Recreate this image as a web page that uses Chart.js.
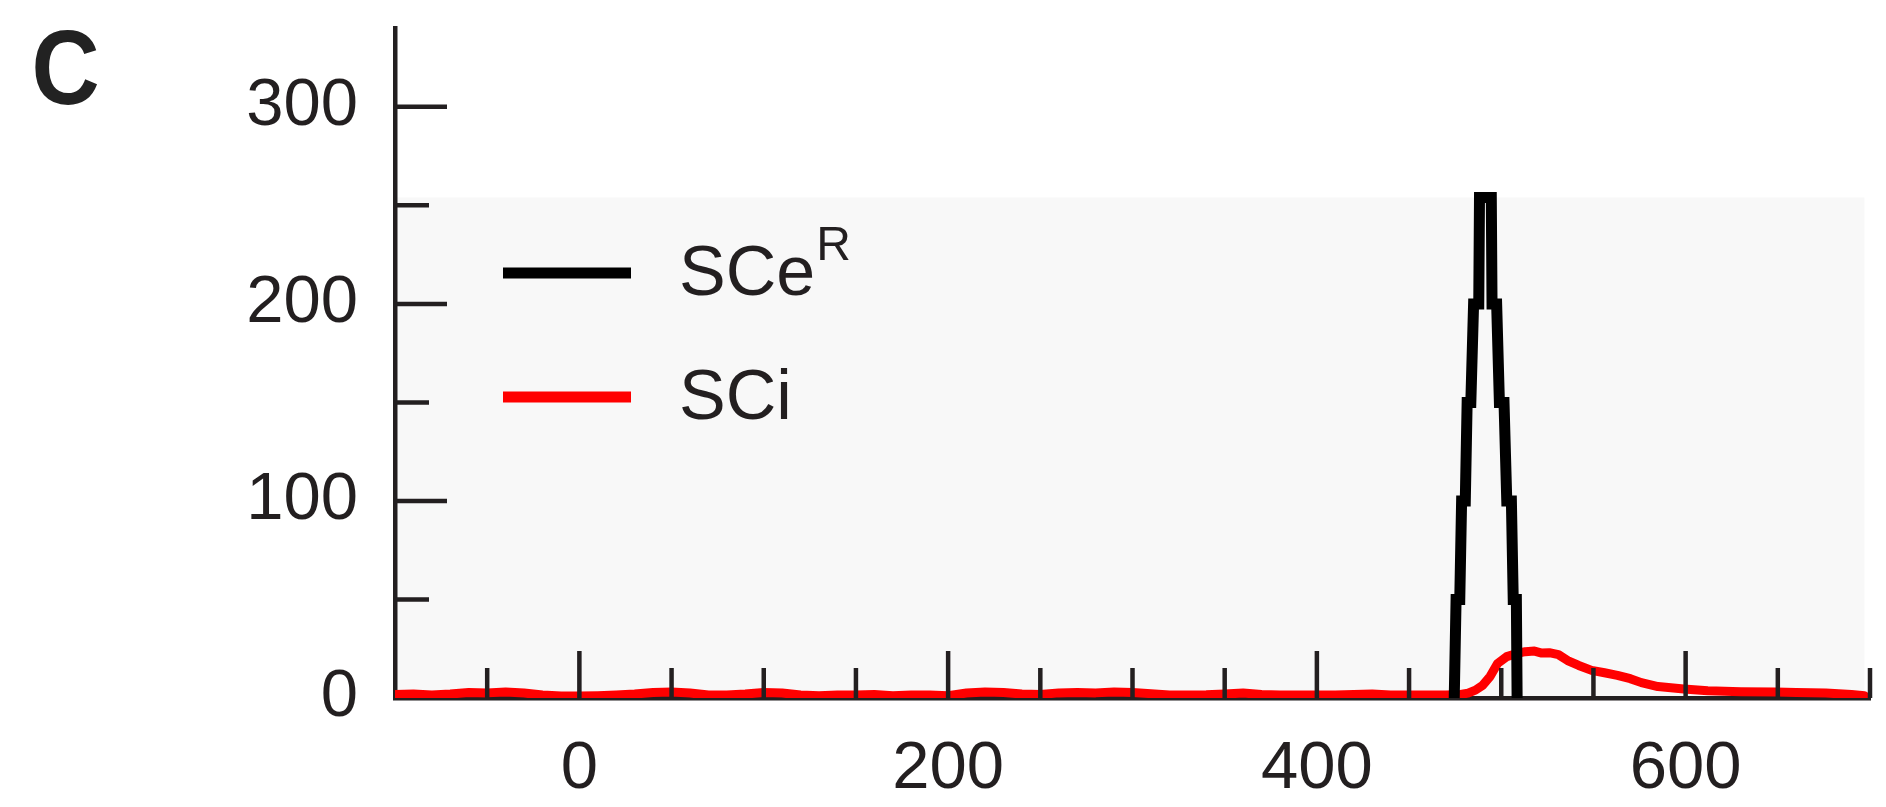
<!DOCTYPE html>
<html>
<head>
<meta charset="utf-8">
<script src="https://cdn.jsdelivr.net/npm/chart.js@4.4.1/dist/chart.umd.min.js"></script>
<style>
html,body{margin:0;padding:0;background:#ffffff;}
#wrap{width:1886px;height:807px;position:relative;}
</style>
</head>
<body>
<div id="wrap"><canvas id="c" width="1886" height="807"></canvas></div>
<script>
// ---- data ----
const panelLabel = 'C';
const seriesNames = ['SCe', 'SCi'];
const seriesSup = ['R', ''];
const seriesColors = ['#000000', '#ff0000'];

const xRange = [-100, 700];
const yRange = [0, 340];
const xLabelTicks = [0, 200, 400, 600];
const yLabelTicks = [0, 100, 200, 300];
const xMinorTicks = [-50, 50, 100, 150, 250, 300, 350, 450, 500, 550, 650, 700];
const yMinorTicks = [50, 150, 250];
const saturationLevel = 254;   // top of the shaded band
const bandXEnd = 697;

// SCe^R (black, stepped peak)
const sceR_x = [474.5, 475.5, 477.5, 478.5, 480.5, 481.5, 483.5, 485, 487.8, 488.2, 494.6, 495, 497.5, 499, 501.5, 503, 505.5, 506.5, 508.2, 508.6];
const sceR_y = [0, 50, 50, 100, 100, 150, 150, 200, 200, 254, 254, 200, 200, 150, 150, 100, 100, 50, 50, 0];

// SCi (red)
const sci_x = [-100, -90, -80, -70, -60, -50, -40, -30, -20, -10, 0, 10, 20, 30, 40, 50, 60, 70, 80, 90,
  100, 110, 120, 130, 140, 150, 160, 170, 180, 190, 200, 210, 220, 230, 240, 250, 260, 270, 280, 290,
  300, 310, 320, 330, 340, 350, 360, 370, 380, 390, 400, 410, 420, 430, 440, 450, 460, 470, 478,
  482, 486, 490, 494, 498, 503, 508, 513, 518, 522, 526, 531, 536, 542, 549, 556, 563,
  570, 576, 585, 599, 612, 630, 649, 660, 676, 690, 697];
const sci_y = [1.8, 2, 1.5, 2, 2.8, 2.6, 3, 2.5, 1.5, 1, 1, 1.2, 1.5, 2, 2.8, 3, 2.5, 1.5, 1.5, 2,
  2.8, 2.5, 1.5, 1.2, 1.5, 1.5, 1.8, 1.2, 1.5, 1.5, 1.2, 2.5, 3, 2.8, 2, 1.8, 2.6, 2.8, 2.6, 3,
  2.8, 2.2, 1.5, 1.5, 1.6, 2, 2.5, 1.8, 1.5, 1.5, 1.5, 1.5, 1.8, 2, 1.5, 1.5, 1.5, 1.5, 1.8,
  2.5, 4, 6.5, 11, 17.5, 21, 22.5, 23.5, 23.8, 22.8, 23, 22, 19, 16.5, 14, 12.8, 11.5,
  9.8, 7.8, 5.8, 4.6, 3.7, 3.2, 3, 2.8, 2.5, 1.8, 1.2];

// ---- styling ----
const FONT = '"Liberation Sans", Arial, Helvetica, sans-serif';
const INK = '#231f20';

const bandPlugin = {
  id: 'band',
  beforeDraw(chart) {
    const {ctx} = chart; const xs = chart.scales.x, ys = chart.scales.y;
    const x0 = xs.getPixelForValue(xRange[0]) + 2;
    const x1 = xs.getPixelForValue(bandXEnd);
    const y0 = ys.getPixelForValue(saturationLevel);
    const y1 = ys.getPixelForValue(0);
    ctx.save();
    ctx.fillStyle = '#f8f8f8';
    ctx.fillRect(x0, y0, x1 - x0, y1 - y0);
    ctx.restore();
  }
};

const tickPlugin = {
  id: 'innerTicks',
  afterDatasetsDraw(chart) {
    const {ctx} = chart; const xs = chart.scales.x, ys = chart.scales.y;
    const ca = chart.chartArea;
    ctx.save();
    ctx.strokeStyle = INK; ctx.lineWidth = 4.5; ctx.lineCap = 'butt';
    const xt = xLabelTicks.map(v => [v, 47]).concat(xMinorTicks.map(v => [v, 30]));
    xt.forEach(([v, len]) => {
      const px = xs.getPixelForValue(v);
      ctx.beginPath(); ctx.moveTo(px, ca.bottom); ctx.lineTo(px, ca.bottom - len); ctx.stroke();
    });
    const yt = yLabelTicks.filter(v => v !== 0).map(v => [v, 52]).concat(yMinorTicks.map(v => [v, 34]));
    yt.forEach(([v, len]) => {
      const py = ys.getPixelForValue(v);
      ctx.beginPath(); ctx.moveTo(ca.left, py); ctx.lineTo(ca.left + len, py); ctx.stroke();
    });
    ctx.restore();
  }
};

const annotPlugin = {
  id: 'annot',
  afterDraw(chart) {
    const {ctx} = chart;
    ctx.save();
    ctx.fillStyle = '#222222';
    ctx.font = 'bold 105px "Liberation Sans Narrow", "Liberation Sans", Arial, sans-serif';
    ctx.textBaseline = 'alphabetic'; ctx.textAlign = 'left';
    const m = ctx.measureText(panelLabel);
    const inkW = m.actualBoundingBoxLeft + m.actualBoundingBoxRight;
    const sx = 62 / inkW;
    ctx.translate(35, 104);
    ctx.scale(sx, 1);
    ctx.fillText(panelLabel, m.actualBoundingBoxLeft, 0);
    ctx.restore();

    ctx.save();
    const rows = [273, 397];
    seriesNames.forEach((name, i) => {
      ctx.fillStyle = seriesColors[i];
      ctx.fillRect(503, rows[i] - 5.5, 128, 11);
      ctx.fillStyle = INK;
      ctx.font = '70px ' + FONT;
      ctx.textBaseline = 'alphabetic'; ctx.textAlign = 'left';
      const base = rows[i] + 22;
      ctx.fillText(name, 679, base);
      if (seriesSup[i]) {
        const w = ctx.measureText(name).width;
        ctx.font = '48px ' + FONT;
        ctx.fillText(seriesSup[i], 679 + w + 1, base - 35);
      }
    });
    ctx.restore();
  }
};

const toPts = (xs, ys) => xs.map((x, i) => ({x: x, y: ys[i]}));

new Chart(document.getElementById('c'), {
  type: 'line',
  data: {
    datasets: [
      {label: seriesNames[0] + seriesSup[0], data: toPts(sceR_x, sceR_y), borderColor: seriesColors[0],
       borderWidth: 11, pointRadius: 0, tension: 0, borderJoinStyle: 'miter', fill: false},
      {label: seriesNames[1], data: toPts(sci_x, sci_y), borderColor: seriesColors[1],
       borderWidth: 9, pointRadius: 0, tension: 0, borderJoinStyle: 'round', borderCapStyle: 'round', fill: false}
    ]
  },
  options: {
    responsive: false,
    animation: false,
    devicePixelRatio: 1,
    layout: {padding: {top: 28, right: 16, left: 0, bottom: 0}},
    plugins: {legend: {display: false}, tooltip: {enabled: false}},
    scales: {
      x: {
        type: 'linear', min: xRange[0], max: xRange[1],
        afterBuildTicks: s => { s.ticks = xLabelTicks.map(v => ({value: v})); },
        afterFit: s => { s.height = 109; s.paddingLeft = 0; s.paddingRight = 0; },
        grid: {display: true, drawOnChartArea: false, drawTicks: false},
        border: {display: true, color: INK, width: 4.5},
        ticks: {font: {family: FONT, size: 67}, color: INK, padding: 31, maxRotation: 0, autoSkip: false,
                callback: v => String(v)}
      },
      y: {
        type: 'linear', min: yRange[0], max: yRange[1],
        afterBuildTicks: s => { s.ticks = yLabelTicks.map(v => ({value: v})); },
        afterFit: s => { s.width = 395; s.paddingTop = 0; s.paddingBottom = 0; },
        grid: {display: true, drawOnChartArea: false, drawTicks: false},
        border: {display: true, color: INK, width: 4.5},
        ticks: {font: {family: FONT, size: 67}, color: INK, padding: 37, autoSkip: false,
                callback: v => String(v)}
      }
    }
  },
  plugins: [bandPlugin, tickPlugin, annotPlugin]
});
</script>
</body>
</html>
